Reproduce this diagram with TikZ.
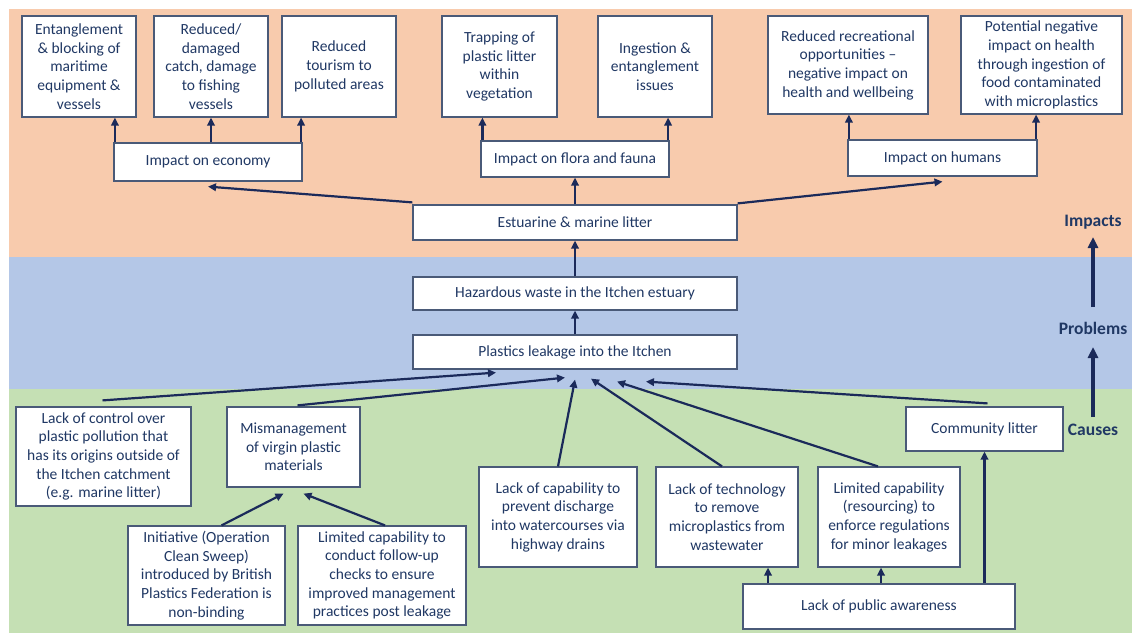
\documentclass[tikz,border=0pt]{standalone}
\usepackage{fontspec}
\setmainfont{Carlito}
\usetikzlibrary{arrows.meta}
\definecolor{bgor}{HTML}{F8CBAD}
\definecolor{bgbl}{HTML}{B4C7E7}
\definecolor{bggr}{HTML}{C5E0B4}
\definecolor{txt}{HTML}{203864}
\definecolor{edge}{HTML}{4A5A78}
\definecolor{arrc}{HTML}{1B2A5A}
\tikzset{
  box/.style={draw=edge, fill=white, line width=1.2pt, align=center, text=txt, inner sep=1pt,
    font=\fontsize{15.5}{18.7}\selectfont},
  conn/.style={draw=arrc, line width=2.2pt, -{Triangle[length=8pt,width=7.5pt]}},
  bigconn/.style={draw=arrc, line width=3.2pt, -{Triangle[length=11pt,width=10pt]}},
  lvl/.style={text=txt, font=\fontsize{17.5}{20}\selectfont\bfseries, inner sep=0pt},
}
\begin{document}
\begin{tikzpicture}[x=1pt,y=-1pt]
\useasboundingbox (0,0) rectangle (1132,633);
% background bands
\fill[bgor] (9,9) rectangle (1132,257);
\fill[bgbl] (9,257) rectangle (1132,389);
\fill[bggr] (9,389) rectangle (1132,633);

% top row
\node[box, minimum width=114pt, minimum height=101pt] (ent) at (79,66.5) {Entanglement\\ \& blocking of\\ maritime\\ equipment \&\\ vessels};
\node[box, minimum width=114pt, minimum height=101pt] (red) at (211,66.5) {Reduced/\\ damaged\\ catch, damage\\ to fishing\\ vessels};
\node[box, minimum width=114pt, minimum height=101pt] (tour) at (339,66.5) {Reduced\\ tourism to\\ polluted areas};
\node[box, minimum width=115pt, minimum height=101pt] (trap) at (499.5,66.5) {Trapping of\\ plastic litter\\ within\\ vegetation};
\node[box, minimum width=114pt, minimum height=101pt] (ing) at (655,66.5) {Ingestion \&\\ entanglement\\ issues};
\node[box, minimum width=160pt, minimum height=98pt] (rec) at (848,65) {Reduced recreational\\ opportunities --\\ negative impact on\\ health and wellbeing};
\node[box, minimum width=161pt, minimum height=98pt] (pot) at (1041.5,65) {Potential negative\\ impact on health\\ through ingestion of\\ food contaminated\\ with microplastics};

% impact groups
\node[box, minimum width=188pt, minimum height=38pt] (econ) at (208,162) {Impact on economy};
\node[box, minimum width=188pt, minimum height=36pt] (flora) at (575,159) {Impact on flora and fauna};
\node[box, minimum width=189pt, minimum height=36pt] (hum) at (942.5,158) {Impact on humans};

% central chain
\node[box, minimum width=324pt, minimum height=35pt] (est) at (575,222.5) {Estuarine \& marine litter};
\node[box, minimum width=324pt, minimum height=33pt] (haz) at (575,293.5) {Hazardous waste in the Itchen estuary};
\node[box, minimum width=324pt, minimum height=34pt] (pla) at (575,352) {Plastics leakage into the Itchen};

% causes
\node[box, minimum width=175pt, minimum height=99pt] (ctrl) at (103.5,456.5) {Lack of control over\\ plastic pollution that\\ has its origins outside of\\ the Itchen catchment\\ (e.g. marine litter)};
\node[box, minimum width=133pt, minimum height=80pt] (mis) at (293.5,447) {Mismanagement\\ of virgin plastic\\ materials};
\node[box, minimum width=157pt, minimum height=99pt] (ini) at (206.5,575.5) {Initiative (Operation\\ Clean Sweep)\\ introduced by British\\ Plastics Federation is\\ non-binding};
\node[box, minimum width=168pt, minimum height=99pt] (lim) at (382,575.5) {Limited capability to\\ conduct follow-up\\ checks to ensure\\ improved management\\ practices post leakage};
\node[box, minimum width=158pt, minimum height=100pt] (prev) at (558,517) {Lack of capability to\\ prevent discharge\\ into watercourses via\\ highway drains};
\node[box, minimum width=142pt, minimum height=100pt] (tech) at (727,517) {Lack of technology\\ to remove\\ microplastics from\\ wastewater};
\node[box, minimum width=142pt, minimum height=100pt] (res) at (889,517) {Limited capability\\ (resourcing) to\\ enforce regulations\\ for minor leakages};
\node[box, minimum width=157pt, minimum height=44pt] (com) at (984.5,429) {Community litter};
\node[box, minimum width=272pt, minimum height=45pt] (aware) at (879,606.5) {Lack of public awareness};

% level labels
\node[lvl] (impacts) at (1093,222) {Impacts};
\node[lvl] (problems) at (1093,328) {Problems};
\node[lvl] (causes) at (1093,430) {Causes};

% connectors: top
\draw[conn] ([xshift=1.5pt]econ.north west) -- ([xshift=1.5pt]econ.north west |- ent.south);
\draw[conn] (red.south |- econ.north) -- (red.south);
\draw[conn] ([xshift=-1.5pt]econ.north east) -- ([xshift=-1.5pt]econ.north east |- tour.south);
\draw[conn] ([xshift=2pt]flora.north west) -- ([xshift=2pt]flora.north west |- trap.south);
\draw[conn] ([xshift=-1.5pt]flora.north east) -- ([xshift=-1.5pt]flora.north east |- ing.south);
\draw[conn] ([xshift=1.5pt]hum.north west) -- ([xshift=1.5pt]hum.north west |- rec.south);
\draw[conn] ([xshift=-1.5pt]hum.north east) -- ([xshift=-1.5pt]hum.north east |- pot.south);

\coordinate (econin) at ([yshift=-5pt]econ.south);
\coordinate (humin) at ([yshift=-5pt]hum.south);
\draw[conn] ([yshift=2pt]est.north west) -- (econin);
\draw[conn] (est.north) -- (flora.south);
\draw[conn] ([yshift=1pt]est.north east) -- (humin);
\draw[conn] (haz.north) -- (est.south);
\draw[conn] (pla.north) -- (haz.south);

% into plastics leakage
\coordinate (p1) at ([xshift=-79pt,yshift=-3pt]pla.south);
\coordinate (p2) at ([xshift=-10pt,yshift=-8pt]pla.south);
\coordinate (p3) at ([yshift=-10pt]pla.south);
\coordinate (p4) at ([xshift=16pt,yshift=-9pt]pla.south);
\coordinate (p5) at ([xshift=42pt,yshift=-12pt]pla.south);
\coordinate (p6) at ([xshift=71pt,yshift=-12pt]pla.south);
\draw[conn] ([xshift=-1pt,yshift=6pt]ctrl.north) -- (p1);
\draw[conn] ([xshift=4pt,yshift=1pt]mis.north) -- (p2);
\draw[conn] (prev.north) -- (p3);
\draw[conn] ([xshift=-5pt]tech.north) -- (p4);
\draw[conn] ([xshift=-11pt]res.north) -- (p5);
\draw[conn] ([xshift=3pt,yshift=3pt]com.north) -- (p6);

% into mismanagement
\draw[conn] ([xshift=15pt]ini.north) -- ([xshift=-10pt,yshift=-6pt]mis.south);
\draw[conn] ([xshift=3pt]lim.north) -- ([xshift=10pt,yshift=-6pt]mis.south);

% from public awareness
\draw[conn] ([xshift=41pt]tech.south |- aware.north) -- ([xshift=41pt]tech.south);
\draw[conn] ([xshift=-8pt]res.south |- aware.north) -- ([xshift=-8pt]res.south);
\draw[conn] (com.south |- aware.north) -- (com.south);

% level arrows
\draw[bigconn] ([yshift=13pt]causes.center) -- ([yshift=-19pt]problems.center);
\draw[bigconn] ([yshift=21pt]problems.center) -- ([yshift=-15pt]impacts.center);
\end{tikzpicture}
\end{document}
